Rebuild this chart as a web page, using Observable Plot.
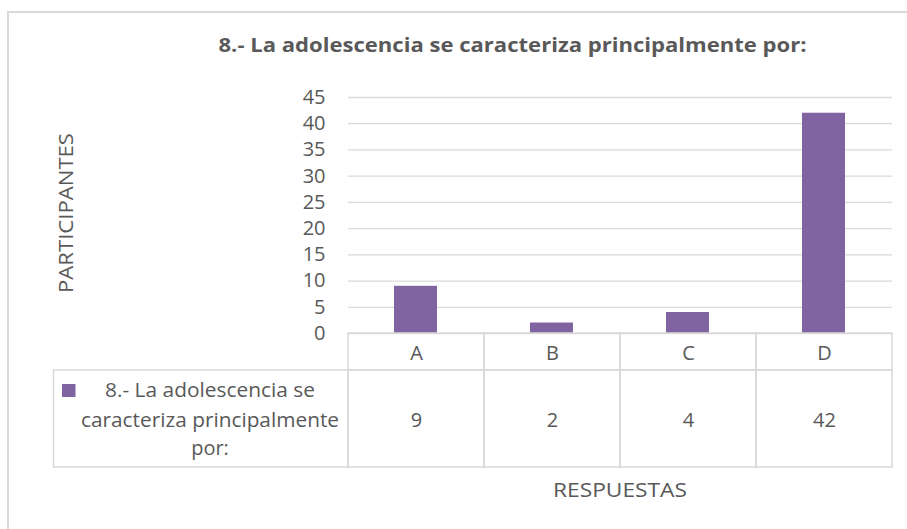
<!DOCTYPE html>
<html>
<head>
<meta charset="utf-8">
<script src="https://cdn.jsdelivr.net/npm/d3@7"></script>
<script src="https://cdn.jsdelivr.net/npm/@observablehq/plot@0.6"></script>
<style>
  html, body { margin: 0; padding: 0; background: #fff; }
  #wrap { position: relative; width: 907px; height: 529px; overflow: hidden; background: #fff; }
  #frame { position: absolute; left: 7px; top: 11px; width: 1000px; height: 1000px; border: 2px solid #d9d9d9; box-sizing: border-box; }
  #wrap svg { position: absolute; left: 0; top: 0; }
</style>
</head>
<body>
<div id="wrap"><div id="frame"></div></div>
<script>
// ---- data ----
const categories = ["A", "B", "C", "D"];
const values = [9, 2, 4, 42];
const yTicks = [0, 5, 10, 15, 20, 25, 30, 35, 40, 45];
const seriesName = "8.- La adolescencia se caracteriza principalmente por:";
const legendLines = ["8.- La adolescencia se", "caracteriza principalmente", "por:"];
const title = "8.- La adolescencia se caracteriza principalmente por:";
const xTitle = "RESPUESTAS";
const yTitle = "PARTICIPANTES";

const data = categories.map((c, i) => ({cat: c, value: values[i]}));

const FONT = "'Open Sans', 'Noto Sans', sans-serif";
const TEXT = "#595959";
const GRID = "#d9d9d9";
const PURPLE = "#8064a2";

const chart = Plot.plot({
  width: 907,
  height: 529,
  marginLeft: 348,
  marginRight: 15,
  marginTop: 97,
  marginBottom: 196,
  style: {fontFamily: FONT, fontSize: "20px", color: TEXT, background: "transparent", overflow: "visible"},
  x: {domain: categories, padding: 0, axis: null},
  y: {domain: [0, 45], ticks: yTicks, tickSize: 0, tickPadding: 23, label: null, tickFormat: d => String(d)},
  marks: [
    Plot.ruleY(yTicks, {stroke: GRID, strokeWidth: 1.3}),
    Plot.barY(data, {x: "cat", y: "value", fill: PURPLE, insetLeft: 46, insetRight: 47}),
    // category row cells
    Plot.barY(data, {x: "cat", y1: 0, y2: 0, insetBottom: -37, fill: "none", stroke: GRID, strokeWidth: 1.5}),
    // value row cells
    Plot.barY(data, {x: "cat", y1: 0, y2: 0, insetTop: 37, insetBottom: -134, fill: "none", stroke: GRID, strokeWidth: 1.5}),
    Plot.text(data, {x: "cat", y: 0, text: "cat", dy: 20, fontSize: 20, fill: TEXT}),
    Plot.text(data, {x: "cat", y: 0, text: d => String(d.value), dy: 87, fontSize: 20, fill: TEXT})
  ]
});

document.getElementById("wrap").appendChild(chart);

// ---- titles, legend cell (annotations) ----
const ns = "http://www.w3.org/2000/svg";
const svg = d3.select(document.getElementById("wrap")).append("svg")
  .attr("xmlns", ns).attr("width", 907).attr("height", 529)
  .style("font-family", FONT).style("pointer-events", "none");

svg.append("text").attr("x", 512.5).attr("y", 52).attr("text-anchor", "middle")
  .attr("font-size", 20).attr("font-weight", "bold").attr("fill", TEXT)
  .attr("textLength", 588).attr("lengthAdjust", "spacingAndGlyphs").text(title);

svg.append("text").attr("x", 620).attr("y", 497).attr("text-anchor", "middle")
  .attr("font-size", 20).attr("fill", TEXT)
  .attr("textLength", 134).attr("lengthAdjust", "spacingAndGlyphs").text(xTitle);

svg.append("text").attr("transform", "translate(72.5,213) rotate(-90)").attr("text-anchor", "middle")
  .attr("font-size", 20).attr("fill", TEXT)
  .attr("textLength", 160).attr("lengthAdjust", "spacingAndGlyphs").text(yTitle);

// legend cell
svg.append("rect").attr("x", 53.5).attr("y", 370).attr("width", 294.5).attr("height", 97)
  .attr("fill", "none").attr("stroke", GRID).attr("stroke-width", 1.5);
svg.append("rect").attr("x", 62).attr("y", 384).attr("width", 13.5).attr("height", 13)
  .attr("fill", PURPLE);
const lineW = [210, 258, null];
const lineY = [396.7, 426.7, 455];
legendLines.forEach((t, i) => {
  const el = svg.append("text").attr("x", 210).attr("y", lineY[i]).attr("text-anchor", "middle")
    .attr("font-size", 20).attr("fill", TEXT).text(t);
  if (lineW[i]) el.attr("textLength", lineW[i]).attr("lengthAdjust", "spacingAndGlyphs");
});
</script>
</body>
</html>
